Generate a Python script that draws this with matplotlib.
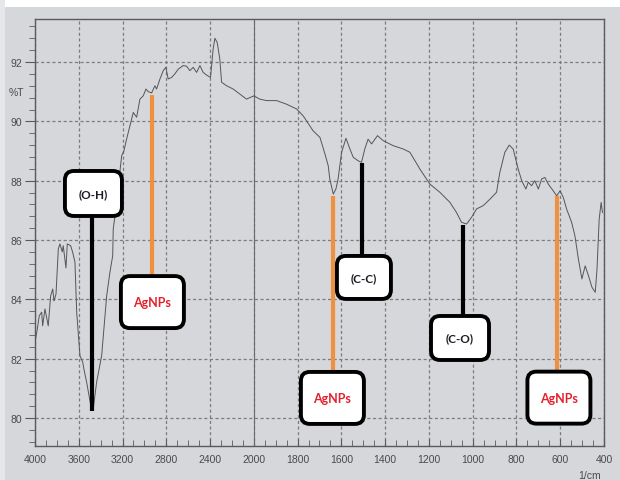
import numpy as np
import matplotlib
matplotlib.use("Agg")
import matplotlib.pyplot as plt
from matplotlib import transforms
from matplotlib.patches import FancyBboxPatch, Rectangle
from matplotlib.ticker import FixedLocator, MultipleLocator

# FTIR spectrum of the AgNPs sample (wavenumber in 1/cm, transmittance in %T)
wavenumber = [
    4000, 3979, 3961, 3939, 3930, 3909, 3879, 3857, 3838, 3826, 3808, 3787,
    3772, 3751, 3742, 3717, 3705, 3674, 3656, 3635, 3619, 3589, 3564, 3553,
    3528, 3482, 3468, 3437, 3391, 3345, 3315, 3290, 3285, 3269, 3208, 3187,
    3163, 3102, 3071, 3041, 3011, 2986, 2965, 2934, 2904, 2889, 2858, 2828,
    2804, 2783, 2752, 2722, 2691, 2646, 2615, 2585, 2554, 2523, 2493, 2463,
    2432, 2396, 2372, 2356, 2335, 2311, 2295, 2249, 2189, 2128, 2067, 2000,
    1973, 1942, 1896, 1851, 1805, 1775, 1729, 1698, 1675, 1660, 1653, 1637,
    1625, 1615, 1599, 1579, 1561, 1546, 1523, 1508, 1493, 1478, 1462, 1435,
    1409, 1363, 1318, 1287, 1241, 1196, 1150, 1104, 1074, 1051, 1028, 1005,
    982, 952, 921, 891, 876, 853, 833, 815, 792, 776, 757, 746,
    731, 716, 700, 685, 670, 655, 632, 616, 601, 586, 571, 548,
    533, 517, 501, 486, 471, 455, 440, 432, 422, 413, 407,
]
transmittance = [
    82.56, 83.00, 83.45, 83.57, 83.11, 83.68, 83.11, 84.12, 84.35, 83.95, 84.18, 85.70,
    85.87, 85.60, 85.81, 85.06, 85.87, 85.81, 85.59, 85.26, 83.57, 82.10, 81.89, 81.65,
    81.21, 80.25, 80.30, 81.21, 82.10, 84.12, 84.92, 85.47, 86.37, 86.82, 88.84, 89.01,
    89.40, 90.30, 90.14, 90.75, 90.86, 91.09, 91.00, 90.96, 91.20, 91.09, 91.43, 91.71,
    91.82, 91.43, 91.48, 91.60, 91.76, 91.88, 91.86, 91.71, 91.82, 91.65, 91.88, 91.65,
    91.56, 91.48, 92.44, 92.80, 92.66, 92.10, 91.32, 91.20, 91.09, 90.92, 90.75, 90.86,
    90.75, 90.70, 90.70, 90.58, 90.42, 90.19, 89.68, 89.46, 88.90, 88.50, 88.06, 87.55,
    87.72, 88.06, 88.96, 89.43, 89.07, 88.79, 88.67, 88.62, 89.07, 89.40, 89.24, 89.52,
    89.35, 89.18, 89.07, 88.96, 88.39, 87.89, 87.61, 87.27, 86.93, 86.60, 86.54, 86.77,
    87.05, 87.16, 87.38, 87.61, 88.28, 88.96, 89.20, 89.07, 88.39, 88.00, 87.72, 87.95,
    87.83, 88.00, 87.72, 88.06, 88.11, 87.89, 87.66, 87.49, 87.66, 87.44, 87.05, 86.60,
    86.15, 85.36, 84.69, 85.13, 84.80, 84.41, 84.24, 85.02, 86.71, 87.27, 86.93,
]

# band assignments: peak position and where the label box sits
peak_labels = ["(O-H)", "AgNPs", "AgNPs", "(C-C)", "(C-O)", "AgNPs"]
peak_wn = [3480, 2932, 1637, 1507, 1046, 617]
peak_t = [80.25, 90.9, 87.5, 88.6, 86.5, 87.5]
box_wn = [3466, 2927, 1641, 1497, 1058, 606]
box_t = [87.57, 83.91, 80.68, 84.74, 82.70, 80.69]

x_ticks = [4000, 3600, 3200, 2800, 2400, 2000, 1800, 1600, 1400, 1200,
           1000, 800, 600, 400]
y_ticks = [80, 82, 84, 86, 88, 90, 92]

PAPER = "#d5d7db"
INK = "#4a4a4a"
ORANGE = "#f0913f"


def fwd(w):
    # the spectrometer chart doubles the scale below 2000 1/cm
    w = np.asarray(w, dtype=float)
    return np.where(w <= 2000, w, 2000 + (w - 2000) / 2)


def inv(p):
    p = np.asarray(p, dtype=float)
    return np.where(p <= 2000, p, 2000 + (p - 2000) * 2)


fig = plt.figure(figsize=(6.2, 4.81), dpi=100, facecolor=PAPER)
fig.patches.append(Rectangle((0, 1 - 8 / 481), 1, 8 / 481, transform=fig.transFigure,
                             fc="white", ec="none", zorder=0))
fig.patches.append(Rectangle((0, 0), 5 / 620, 1, transform=fig.transFigure,
                             fc="#e6e7ea", ec="none", zorder=0))

ax = fig.add_axes([35 / 620, 34 / 481, 569 / 620, 427 / 481])
ax.set_facecolor(PAPER)
ax.set_xscale("function", functions=(fwd, inv))
ax.set_xlim(4000, 400)
ax.set_ylim(79.06, 93.45)

ax.xaxis.set_major_locator(FixedLocator(x_ticks))
minor_x = [w for w in list(range(4000, 2000, -100)) + list(range(2000, 400, -50))
           if w not in x_ticks]
ax.xaxis.set_minor_locator(FixedLocator(minor_x))
ax.yaxis.set_major_locator(FixedLocator(y_ticks))
ax.yaxis.set_minor_locator(MultipleLocator(0.4))

ax.grid(True, which="major", color="#7c7c7c", lw=0.9, ls=(0, (2.5, 2)))
ax.axvline(2000, color="#6c6c6c", lw=0.8)

for side in ax.spines.values():
    side.set_color("#5a5a5a")
    side.set_linewidth(1.0)

ax.tick_params(axis="x", which="both", direction="in", colors="#5a5a5a",
               labelcolor=INK, labelsize=7.5, pad=6)
ax.tick_params(axis="x", which="major", length=5)
ax.tick_params(axis="x", which="minor", length=4)
ax.tick_params(axis="y", which="both", direction="out", colors="#5a5a5a",
               labelcolor=INK, labelsize=7.5, pad=2)
ax.tick_params(axis="y", which="major", length=7)
ax.tick_params(axis="y", which="minor", length=4)
for lab in ax.get_xticklabels() + ax.get_yticklabels():
    lab.set_family(["Liberation Sans", "DejaVu Sans"])

ax.plot(wavenumber, transmittance, color="#555555", lw=0.7, zorder=3)

ax.text(-0.032, 0.829, "%T", transform=ax.transAxes, ha="center", va="center",
        fontsize=7.5, color=INK, family=["Liberation Sans", "DejaVu Sans"])
fig.text(590 / 620, 1 - 476 / 481, "1/cm", ha="center", va="center",
         fontsize=7.5, color=INK, family=["Liberation Sans", "DejaVu Sans"])

# box sizes in inches (figure is 100 dpi)
box_size = {"(O-H)": (0.57, 0.45), "(C-C)": (0.54, 0.43), "(C-O)": (0.58, 0.44),
            "AgNPs": (0.63, 0.52)}

for label, pw, pt, bw, bt in zip(peak_labels, peak_wn, peak_t, box_wn, box_t):
    is_ag = label == "AgNPs"
    ax.plot([pw, pw], [pt, bt], color=ORANGE if is_ag else "black",
            lw=3.0, solid_capstyle="butt", zorder=4)
    w, h = box_size[label]
    trans = fig.dpi_scale_trans + transforms.ScaledTranslation(bw, bt, ax.transData)
    ax.add_patch(FancyBboxPatch((-w / 2, -h / 2), w, h,
                                boxstyle="round,pad=0,rounding_size=0.09",
                                transform=trans, fc="white", ec="black",
                                lw=2.8, zorder=5, clip_on=False))
    ax.text(0, 0, label, transform=trans, ha="center", va="center",
            fontsize=9 if is_ag else 8.5, fontweight="bold",
            color="#e3202c" if is_ag else "#1a1a22",
            family=["Lato", "DejaVu Sans"], zorder=6)

fig.savefig("out.png", dpi=100, facecolor=PAPER)
